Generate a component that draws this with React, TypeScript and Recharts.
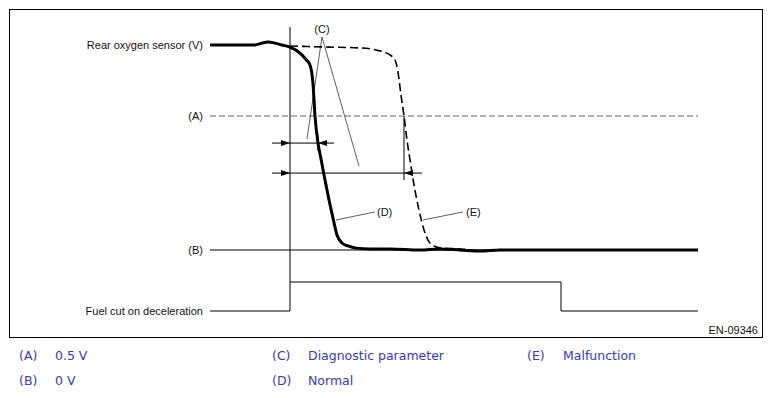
import { LineChart, Line, XAxis, YAxis, ReferenceLine, ReferenceDot } from "recharts"

// time axis: 1 unit = 10px, t=0 is the fuel cut start
// rear O2 sensor voltage, normal response (D)
const normalTime = [-8.0, -5.0, -3.5, -2.8, -2.2, -1.5, -0.8, 0, 1.0, 1.6, 2.0, 2.3, 2.5, 2.8, 3.1, 3.5, 3.9, 4.3, 4.7, 5.2, 5.8, 6.6, 8.0, 10.0, 13.0, 15.0, 17.0, 19.0, 21.0, 40.8]
const normalVolt = [0.765, 0.765, 0.765, 0.772, 0.776, 0.772, 0.765, 0.757, 0.735, 0.711, 0.69, 0.62, 0.5, 0.399, 0.34, 0.261, 0.187, 0.119, 0.056, 0.026, 0.015, 0.007, 0.004, 0.004, 0, 0.004, 0, -0.004, 0, 0]

// slow response, malfunction (E)
const faultTime = [0, 4.0, 7.0, 9.0, 10.0, 10.5, 10.8, 11.1, 11.4, 11.7, 12.0, 12.4, 12.9, 13.4, 13.8, 14.4, 15.2, 17.0, 19.0, 21.0, 40.8]
const faultVolt = [0.761, 0.757, 0.754, 0.743, 0.728, 0.709, 0.664, 0.578, 0.5, 0.41, 0.336, 0.243, 0.149, 0.075, 0.037, 0.015, 0.007, 0.004, -0.002, 0, 0]

// fuel cut on deceleration signal (1 = cut)
const fuelTime = [-8.0, 0, 27.1, 40.8]
const fuelState = [0, 1, 0, 0]

const thresholdV = 0.5
const zeroV = 0
const lineStart = -8.0
const lineEnd = 40.8
const detectNormal = 2.8
const detectFault = 11.4

const legendRows = [
  [["(A)", "0.5 V"], ["(C)", "Diagnostic parameter"], ["(E)", "Malfunction"]],
  [["(B)", "0 V"], ["(D)", "Normal"]],
]

const normalData = normalTime.map((t, i) => ({ t, v: normalVolt[i] }))
const faultData = faultTime.map((t, i) => ({ t, v: faultVolt[i] }))
const fuelData = fuelTime.map((t, i) => ({ t, f: fuelState[i] }))

const font = "'Liberation Sans', Arial, sans-serif"

const txt = (s: string, anchor: string = "middle") => (p: any) => (
  <text x={p.cx} y={p.cy} textAnchor={anchor} dominantBaseline="central" fontSize={11} fontFamily={font} fill="#111">
    {s}
  </text>
)

const arrow = (dir: number) => (p: any) => (
  <path
    d={`M${p.cx},${p.cy}L${p.cx - dir * 9},${p.cy - 3}L${p.cx - dir * 9},${p.cy + 3}Z`}
    fill="#000"
  />
)

export default function App() {
  return (
    <div style={{ position: "absolute", left: 0, top: 0, width: 772, height: 398, background: "#fff" }}>
      <div
        style={{
          position: "absolute", left: 9, top: 9, width: 754, height: 329,
          border: "1px solid #000", boxSizing: "border-box",
        }}
      />
      <div style={{ position: "absolute", left: 0, top: 0 }}>
        <LineChart width={772} height={345} margin={{ top: 8.8, right: 0, bottom: 1.2, left: 0 }}>
          <XAxis type="number" dataKey="t" domain={[-29, 48.2]} hide allowDataOverflow />
          <YAxis yAxisId="v" type="number" domain={[-0.35, 0.9]} hide allowDataOverflow />
          <YAxis yAxisId="f" type="number" domain={[-1.131, 10.421]} hide allowDataOverflow />

          <ReferenceLine yAxisId="v" segment={[{ x: lineStart, y: thresholdV }, { x: lineEnd, y: thresholdV }]} stroke="#999" strokeWidth={1.6} strokeDasharray="6 3" />
          <ReferenceLine yAxisId="v" segment={[{ x: lineStart, y: zeroV }, { x: lineEnd, y: zeroV }]} stroke="#000" strokeWidth={1} />
          <ReferenceLine yAxisId="v" segment={[{ x: 0, y: 0.832 }, { x: 0, y: -0.119 }]} stroke="#000" strokeWidth={1} />

          {/* diagnostic parameter arrows */}
          <ReferenceLine yAxisId="v" segment={[{ x: -1.8, y: 0.399 }, { x: 4.4, y: 0.399 }]} stroke="#000" strokeWidth={1} />
          <ReferenceLine yAxisId="v" segment={[{ x: detectNormal, y: 0.43 }, { x: detectNormal, y: 0.37 }]} stroke="#000" strokeWidth={1} />
          <ReferenceLine yAxisId="v" segment={[{ x: -1.8, y: 0.287 }, { x: 13.2, y: 0.287 }]} stroke="#000" strokeWidth={1} />
          <ReferenceLine yAxisId="v" segment={[{ x: detectFault, y: thresholdV }, { x: detectFault, y: 0.261 }]} stroke="#000" strokeWidth={1} />
          <ReferenceDot yAxisId="v" x={0} y={0.399} r={0} shape={arrow(1)} />
          <ReferenceDot yAxisId="v" x={detectNormal} y={0.399} r={0} shape={arrow(-1)} />
          <ReferenceDot yAxisId="v" x={0} y={0.287} r={0} shape={arrow(1)} />
          <ReferenceDot yAxisId="v" x={detectFault} y={0.287} r={0} shape={arrow(-1)} />

          {/* leader lines */}
          <ReferenceLine yAxisId="v" segment={[{ x: 3.2, y: 0.795 }, { x: 1.7, y: 0.414 }]} stroke="#333" strokeWidth={0.8} />
          <ReferenceLine yAxisId="v" segment={[{ x: 3.2, y: 0.795 }, { x: 6.9, y: 0.313 }]} stroke="#333" strokeWidth={0.8} />
          <ReferenceLine yAxisId="v" segment={[{ x: 4.6, y: 0.112 }, { x: 8.5, y: 0.142 }]} stroke="#333" strokeWidth={0.8} />
          <ReferenceLine yAxisId="v" segment={[{ x: 13.3, y: 0.112 }, { x: 17.3, y: 0.142 }]} stroke="#333" strokeWidth={0.8} />

          <Line yAxisId="f" data={fuelData} dataKey="f" type="stepAfter" stroke="#000" strokeWidth={1} dot={false} isAnimationActive={false} />
          <Line yAxisId="v" data={faultData} dataKey="v" type="monotone" stroke="#000" strokeWidth={1.6} strokeDasharray="8 4" dot={false} isAnimationActive={false} />
          <Line yAxisId="v" data={normalData} dataKey="v" type="monotone" stroke="#000" strokeWidth={3} dot={false} isAnimationActive={false} />

          <ReferenceDot yAxisId="v" x={-8.7} y={0.765} r={0} shape={txt("Rear oxygen sensor (V)", "end")} />
          <ReferenceDot yAxisId="v" x={-8.7} y={thresholdV} r={0} shape={txt("(A)", "end")} />
          <ReferenceDot yAxisId="v" x={-8.7} y={zeroV} r={0} shape={txt("(B)", "end")} />
          <ReferenceDot yAxisId="f" x={-8.7} y={0} r={0} shape={txt("Fuel cut on deceleration", "end")} />
          <ReferenceDot yAxisId="v" x={3.2} y={0.825} r={0} shape={txt("(C)")} />
          <ReferenceDot yAxisId="v" x={8.7} y={0.142} r={0} shape={txt("(D)", "start")} />
          <ReferenceDot yAxisId="v" x={17.6} y={0.142} r={0} shape={txt("(E)", "start")} />
          <ReferenceDot yAxisId="v" x={46.8} y={-0.2985} r={0} shape={txt("EN-09346", "end")} />
        </LineChart>
      </div>
      {legendRows.map((row, ri) =>
        row.map(([k, label], ci) => (
          <div
            key={`${ri}-${ci}`}
            style={{
              position: "absolute", left: [19, 272, 527][ci], top: 348 + ri * 25,
              fontFamily: "'DejaVu Sans', Verdana, sans-serif", fontSize: 12.5, lineHeight: "16px",
              color: "#3636c8", whiteSpace: "nowrap",
            }}
          >
            <span style={{ display: "inline-block", width: 36 }}>{k}</span>
            {label}
          </div>
        ))
      )}
    </div>
  )
}
